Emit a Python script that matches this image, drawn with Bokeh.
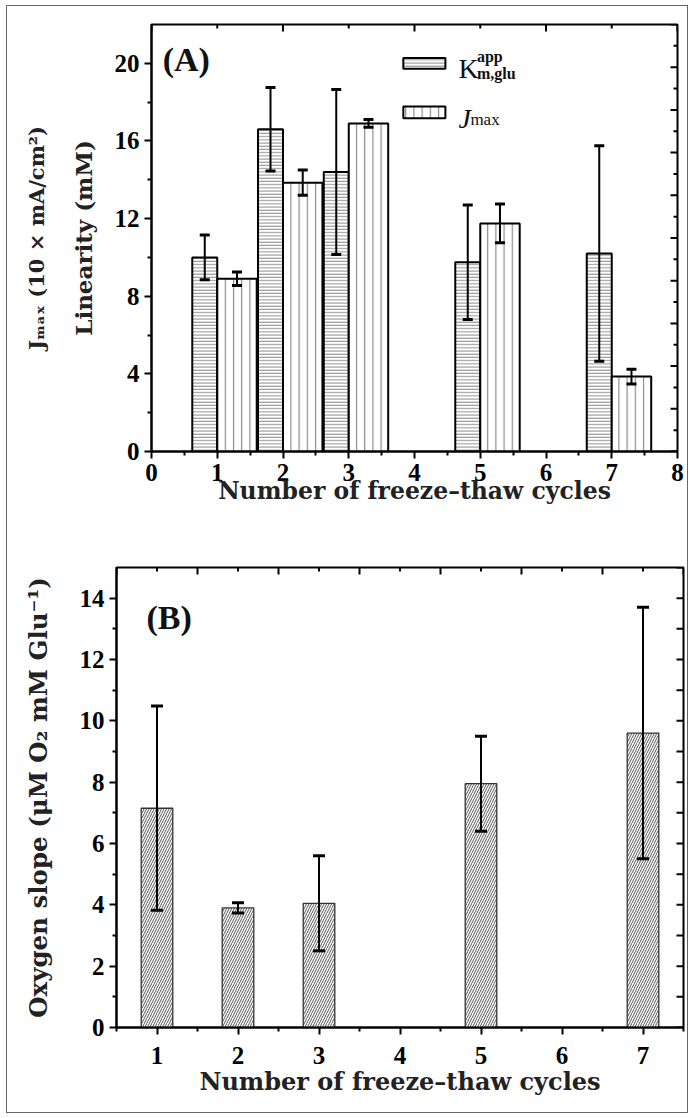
import math
from bokeh.plotting import figure
from bokeh.models import (ColumnDataSource, Whisker, TeeHead, LinearAxis, FixedTicker, Range1d)
from bokeh.layouts import column, row
from bokeh.embed import file_html
from bokeh.resources import INLINE
from bokeh.core.properties import value

# ---------------- data ----------------
cycles = [1, 2, 3, 5, 7]
km_glu = [10.0, 16.6, 14.4, 9.75, 10.2]          # Linearity (mM)
km_glu_err = [1.15, 2.15, 4.25, 2.95, 5.55]
jmax = [8.9, 13.85, 16.9, 11.75, 3.86]            # Jmax (10 x mA/cm2)
jmax_err = [0.35, 0.65, 0.2, 1.0, 0.38]
oxygen_slope = [7.15, 3.9, 4.05, 7.95, 9.6]
oxygen_slope_err = [3.33, 0.17, 1.55, 1.55, 4.1]

xticks_a = [0, 1, 2, 3, 4, 5, 6, 7, 8]
xminor_a = [0.5, 1.5, 2.5, 3.5, 4.5, 5.5, 6.5, 7.5]
yticks_a = [0, 4, 8, 12, 16, 20]
yminor_a = [2, 6, 10, 14, 18]
right_major_a = list(range(0, 21, 2))     # right-hand scale 0-20
right_minor_a = list(range(1, 20, 2))
xticks_b = [1, 2, 3, 4, 5, 6, 7]
xminor_b = [0.5, 1.5, 2.5, 3.5, 4.5, 5.5, 6.5, 7.5]
yticks_b = [0, 2, 4, 6, 8, 10, 12, 14]
yminor_b = [1, 3, 5, 7, 9, 11, 13]
right_b = list(range(0, 16))

SERIF = "Liberation Serif"
TITLE = "DejaVu Serif"
TICK_PX = "25px"

K_OFF, K_W = -0.19, 0.38
J_OFF, J_W = 0.30, 0.60


def style_axes(p, xt, xminor, yt, yminor):
    for ax in p.xaxis + p.yaxis:
        ax.axis_line_width = 2
        ax.major_tick_line_width = 2
        ax.minor_tick_line_width = 2
        ax.major_tick_out = 7
        ax.major_tick_in = 0
        ax.minor_tick_out = 4
        ax.minor_tick_in = 0
        ax.major_label_text_font = SERIF
        ax.major_label_text_font_style = "bold"
        ax.major_label_text_font_size = TICK_PX
        ax.major_label_text_color = "black"
        ax.axis_label_text_font = TITLE
        ax.axis_label_text_font_style = "bold"
        ax.axis_label_text_color = "#222222"
    p.xaxis.ticker = FixedTicker(ticks=xt, minor_ticks=xminor)
    p.yaxis.ticker = FixedTicker(ticks=yt, minor_ticks=yminor)
    p.grid.visible = False
    p.outline_line_color = "black"
    p.outline_line_width = 2


def top_ticks(p, top_y, major, minor):
    p.ray(x=major, y=[top_y] * len(major), length=7, length_units="screen",
          angle=-math.pi / 2, line_width=2, line_color="black")
    if minor:
        p.ray(x=minor, y=[top_y] * len(minor), length=4, length_units="screen",
              angle=-math.pi / 2, line_width=2, line_color="black")


def right_ticks(p, right_x, major, minor, range_name="default"):
    p.ray(x=[right_x] * len(major), y=major, length=7, length_units="screen",
          angle=math.pi, line_width=2, line_color="black", y_range_name=range_name)
    if minor:
        p.ray(x=[right_x] * len(minor), y=minor, length=4, length_units="screen",
              angle=math.pi, line_width=2, line_color="black", y_range_name=range_name)


def whiskers(p, src, base, lo, hi, size):
    p.add_layout(Whisker(source=src, base=base, lower=lo, upper=hi, line_width=2,
                         line_color="black", level="overlay",
                         upper_head=TeeHead(size=size, line_width=3, line_color="black"),
                         lower_head=TeeHead(size=size, line_width=3, line_color="black")))


# ---------------- panel A ----------------
srcA = ColumnDataSource(dict(
    kx=[c + K_OFF for c in cycles], k=km_glu,
    k_lo=[v - e for v, e in zip(km_glu, km_glu_err)],
    k_hi=[v + e for v, e in zip(km_glu, km_glu_err)],
    jx=[c + J_OFF for c in cycles], j=jmax,
    j_lo=[v - e for v, e in zip(jmax, jmax_err)],
    j_hi=[v + e for v, e in zip(jmax, jmax_err)],
))

pA = figure(frame_width=526, frame_height=427, x_range=Range1d(0, 8), y_range=Range1d(0, 22),
            output_backend="svg", toolbar_location=None,
            min_border_left=144, min_border_right=10, min_border_top=18, min_border_bottom=87)
pA.extra_y_ranges = {"right": Range1d(0, 20)}

pA.vbar(x="kx", top="k", width=K_W, source=srcA, fill_color="white", line_color="black",
        line_width=2, hatch_pattern="horizontal_line", hatch_scale=3.2, hatch_weight=1,
        hatch_color="#8a8a8a")
pA.vbar(x="jx", top="j", width=J_W, source=srcA, fill_color="white", line_color="black",
        line_width=2, hatch_pattern="vertical_line", hatch_scale=8.2, hatch_weight=1.2,
        hatch_color="#8a8a8a")
whiskers(pA, srcA, "kx", "k_lo", "k_hi", 10)
whiskers(pA, srcA, "jx", "j_lo", "j_hi", 10)

style_axes(pA, xticks_a, xminor_a, yticks_a, yminor_a)
pA.xaxis.axis_label = "Number of freeze\u2013thaw cycles"
pA.xaxis.axis_label_text_font_size = "23.5px"
pA.xaxis.axis_label_standoff = -7
pA.yaxis.axis_label = "Linearity (mM)"
pA.yaxis.axis_label_text_font_size = "23px"
pA.yaxis.axis_label_standoff = 15

extra = LinearAxis(axis_label="J\u2098\u2090\u2093 (10 \u00d7 mA/cm\u00b2)",
                   ticker=FixedTicker(ticks=[], minor_ticks=[]),
                   axis_line_color=None, major_tick_line_color=None, minor_tick_line_color=None,
                   major_label_standoff=0, major_tick_out=0, major_tick_in=0,
                   axis_label_standoff=18, axis_label_text_font=TITLE,
                   axis_label_text_font_style="bold", axis_label_text_font_size="21px",
                   axis_label_text_color="#222222")
pA.add_layout(extra, "left")
top_ticks(pA, 22, [0, 2, 4, 6, 8], [1, 3, 5, 7])
right_ticks(pA, 8, right_major_a, right_minor_a, "right")

# panel label and legend (annotation texts)
pA.text(x=[0.17], y=[20.2], text=["(A)"], text_font=value(SERIF), text_font_style="bold",
        text_font_size="34px", text_baseline="middle", text_align="left", text_color="#111111")
pA.quad(left=[3.83], right=[4.47], bottom=[19.72], top=[20.27], fill_color="white",
        line_color="black", line_width=2, hatch_pattern="horizontal_line", hatch_scale=3.2,
        hatch_weight=1, hatch_color="#8a8a8a")
pA.quad(left=[3.83], right=[4.47], bottom=[17.17], top=[17.77], fill_color="white",
        line_color="black", line_width=2, hatch_pattern="vertical_line", hatch_scale=8.2,
        hatch_weight=1.2, hatch_color="#8a8a8a")
pA.text(x=[4.67], y=[19.72], text=["K"], text_font=value(SERIF), text_font_size="28px",
        text_baseline="alphabetic", text_color="#111111")
pA.text(x=[4.95], y=[20.33], text=["app"], text_font=value(SERIF), text_font_size="16px",
        text_font_style="bold", text_baseline="alphabetic", text_color="#111111")
pA.text(x=[4.95], y=[19.45], text=["m,glu"], text_font=value(SERIF), text_font_size="16px",
        text_font_style="bold", text_baseline="alphabetic", text_color="#111111")
pA.text(x=[4.67], y=[17.16], text=["J"], text_font=value(SERIF), text_font_size="28px",
        text_font_style="italic", text_baseline="alphabetic", text_color="#111111")
pA.text(x=[4.85], y=[17.08], text=["max"], text_font=value(SERIF), text_font_size="17px",
        text_baseline="alphabetic", text_color="#111111")

# ---------------- panel B ----------------
srcB = ColumnDataSource(dict(
    x=cycles, y=oxygen_slope,
    lo=[v - e for v, e in zip(oxygen_slope, oxygen_slope_err)],
    hi=[v + e for v, e in zip(oxygen_slope, oxygen_slope_err)],
))
pB = figure(frame_width=567, frame_height=460, x_range=Range1d(0.5, 7.5), y_range=Range1d(0, 15),
            output_backend="svg", toolbar_location=None,
            min_border_left=109, min_border_right=4, min_border_top=29, min_border_bottom=85)
pB.vbar(x="x", top="y", width=0.39, source=srcB, fill_color="white", line_color="#333333",
        line_width=1.3, hatch_pattern="right_diagonal_line", hatch_scale=5, hatch_weight=1,
        hatch_color="#555555")
whiskers(pB, srcB, "x", "lo", "hi", 12)
style_axes(pB, xticks_b, xminor_b, yticks_b, yminor_b)
pB.xaxis.major_label_standoff = 12
pB.xaxis.axis_label = "Number of freeze\u2013thaw cycles"
pB.xaxis.axis_label_text_font_size = "24px"
pB.xaxis.axis_label_standoff = 0
pB.yaxis.axis_label = "Oxygen slope (\u03bcM O\u2082 mM Glu\u207b\u00b9)"
pB.yaxis.axis_label_text_font_size = "24.5px"
pB.yaxis.axis_label_standoff = 24
top_ticks(pB, 15, xminor_b, xticks_b)
right_ticks(pB, 7.5, right_b, [])
pB.text(x=[0.87], y=[13.38], text=["(B)"], text_font=value(SERIF), text_font_style="bold",
        text_font_size="34px", text_baseline="middle", text_align="left", text_color="#111111")

layout = column(row(pA), row(pB), spacing=0,
                styles={"border": "1px solid #666666", "margin-left": "6px", "margin-top": "5px"})
open("out.html", "w").write(file_html(layout, INLINE))
